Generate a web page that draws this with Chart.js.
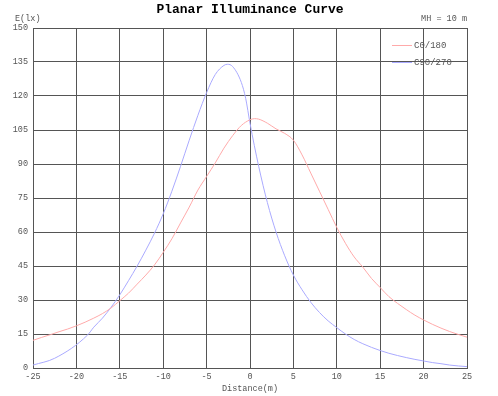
<!DOCTYPE html>
<html>
<head>
<meta charset="utf-8">
<script src="https://cdn.jsdelivr.net/npm/chart.js@4/dist/chart.umd.min.js"></script>
<style>
  html, body { margin: 0; padding: 0; background: #fff; }
  #wrap { width: 498px; height: 396px; }
</style>
</head>
<body>
<div id="wrap"><canvas id="chart"></canvas></div>
<script>
// distances (m) and illuminance (lx)
let distC0 = [-25, -24, -23, -22, -21, -20, -19, -18, -17, -16, -15, -14, -13, -12, -11, -10, -9, -8, -7, -6, -5, -4, -3, -2, -1, 0, 0.5, 1, 2, 3, 4, 5, 6, 7, 8, 9, 10, 11, 12, 13, 14, 15, 16, 17, 18, 19, 20, 21, 22, 23, 24, 25];
let luxC0 = [12.2, 13.5, 14.7, 16, 17.2, 18.6, 20.2, 22, 24, 26.5, 29.7, 33, 37, 41, 45.5, 51, 57, 64, 71, 78.5, 84.5, 90.5, 97, 102.5, 107, 109.5, 110, 109.8, 108, 105.5, 103.5, 100.5, 94, 86, 78, 70, 62, 55, 49, 44.5, 39.5, 35.5, 31.5, 28.5, 25.8, 23.3, 21.2, 19.3, 17.6, 16.1, 14.8, 13.6];

let distC90 = [-25, -22.5, -18.7, -18, -17, -16, -15, -14, -13, -12, -11, -10, -9, -8, -7, -6, -5, -4, -3, -2.6, -2, -1, -0.5, 0, 1, 2, 3, 4, 5, 6, 7, 8, 9, 10, 11, 12, 13, 14, 15, 16, 17, 18, 19, 20, 21, 22, 23, 24, 25];
let luxC90 = [1.3, 4.3, 14.6, 18, 22, 26.8, 32.3, 38.5, 45, 52, 59.5, 68, 78, 89, 100.5, 111.5, 121.5, 129.5, 133.5, 134, 133, 126, 119, 108, 89, 73, 60, 49.5, 41, 34.5, 29, 24.5, 20.8, 17.8, 15, 12.6, 10.7, 9.1, 7.7, 6.5, 5.5, 4.6, 3.8, 3.1, 2.4, 1.9, 1.3, 0.9, 0.6];

let seriesNames = ["C0/180", "C90/270"];
let seriesColors = ["#ffaaaa", "#aaaaff"];
let xTicks = [-25, 25, 5];   // min, max, step
let yTicks = [0, 150, 15];

const FONT = "'Courier New', 'Liberation Mono', monospace";
const TEXT = "#555";

function points(xs, ys) {
    return xs.map(function(x, i) { return { x: x, y: ys[i] }; });
}

// title, axis captions and the in-plot legend
const decor = {
    id: "decor",
    afterDraw: function(chart) {
        const ctx = chart.ctx;
        const area = chart.chartArea;
        ctx.save();
        ctx.fillStyle = "#000";
        ctx.font = "bold 13px " + FONT;
        ctx.textAlign = "center";
        ctx.textBaseline = "middle";
        ctx.fillText("Planar Illuminance Curve", 250, 10);

        ctx.fillStyle = TEXT;
        ctx.font = "8.5px " + FONT;
        ctx.textAlign = "left";
        ctx.fillText("E(lx)", 15, 19);
        ctx.textAlign = "right";
        ctx.fillText("MH = 10 m", area.right, 19);
        ctx.textAlign = "center";
        ctx.fillText("Distance(m)", (area.left + area.right) / 2, 389);

        ctx.font = "9px " + FONT;
        ctx.textAlign = "left";
        chart.data.datasets.forEach(function(ds, i) {
            const y = 45.5 + i * 17;
            ctx.strokeStyle = ds.borderColor;
            ctx.lineWidth = 1;
            ctx.beginPath();
            ctx.moveTo(392, y);
            ctx.lineTo(412, y);
            ctx.stroke();
            ctx.fillStyle = TEXT;
            ctx.fillText(ds.label, 414, y);
        });
        ctx.restore();
    }
};

const datasets = [
    { label: seriesNames[0], data: points(distC0, luxC0), borderColor: seriesColors[0] },
    { label: seriesNames[1], data: points(distC90, luxC90), borderColor: seriesColors[1] }
].map(function(ds) {
    ds.borderWidth = 1;
    ds.pointRadius = 0;
    ds.fill = false;
    ds.cubicInterpolationMode = "monotone";
    return ds;
});

new Chart(document.getElementById("chart"), {
    type: "line",
    data: { datasets: datasets },
    options: {
        responsive: true,
        maintainAspectRatio: false,
        animation: false,
        layout: { padding: { left: 0, right: 31, top: 28, bottom: 0 } },
        plugins: { legend: { display: false }, title: { display: false }, tooltip: { enabled: false } },
        scales: {
            x: {
                type: "linear",
                min: xTicks[0],
                max: xTicks[1],
                afterFit: function(scale) { scale.height = 28; },
                ticks: { stepSize: xTicks[2], padding: 4, color: TEXT, font: { family: FONT, size: 8.5 } },
                grid: { color: "#555", lineWidth: 1, drawTicks: false },
                border: { color: "#555" }
            },
            y: {
                min: yTicks[0],
                max: yTicks[1],
                afterFit: function(scale) { scale.width = 33; },
                ticks: { stepSize: yTicks[2], padding: 5, color: TEXT, font: { family: FONT, size: 8.5 } },
                grid: { color: "#555", lineWidth: 1, drawTicks: false },
                border: { color: "#555" }
            }
        }
    },
    plugins: [decor]
});
</script>
</body>
</html>
